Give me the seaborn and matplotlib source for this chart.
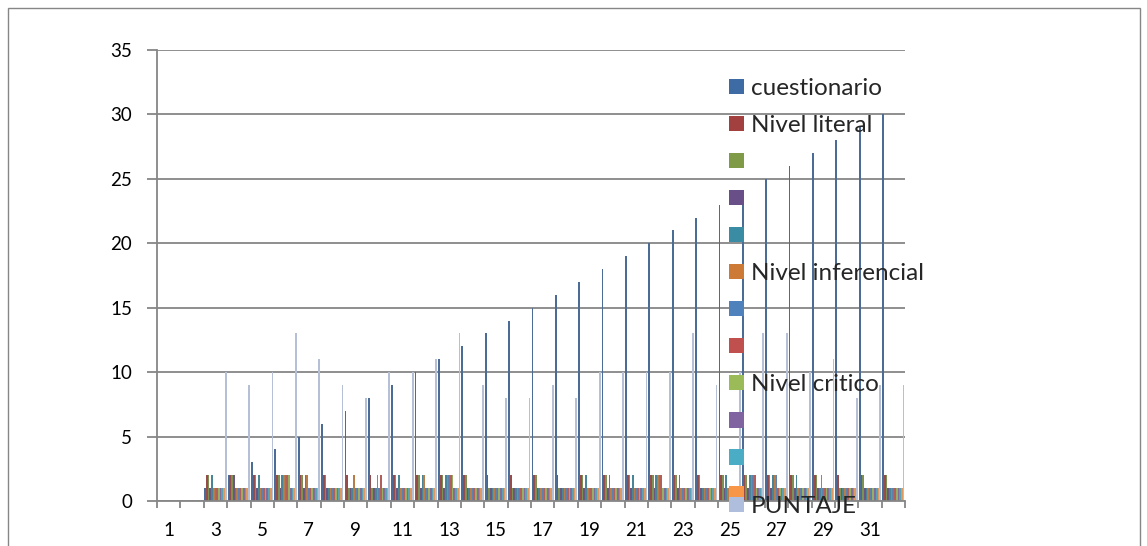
#!/usr/bin/env python3
import numpy as np
import pandas as pd
import matplotlib
matplotlib.use("Agg")
import matplotlib.pyplot as plt
import seaborn as sns
from matplotlib.patches import Patch, Rectangle
from matplotlib.ticker import FixedLocator

# ---- data ----
categories = [str(i) for i in range(1, 33)]
N = None

cuestionario = [N, N, 1, 2, 3, 4, 5, 6, 7, 8, 9, 10, 11, 12, 13, 14, 15, 16,
                17, 18, 19, 20, 21, 22, 23, 24, 25, 26, 27, 28, 29, 30]
nivel_literal = [N, N, 2, 2, 2, 2, 2, 2, 2, 2, 2, 2, 2, 2, 2, 2, 2, 2,
                 2, 2, 2, 2, 2, 2, 2, 2, 2, 2, 2, 2, 2, 2]
serie_3 = [N, N, 2, 2, 2, 2, 2, 2, 1, 1, 2, 2, 2, 2, 1, 1, 2, 1,
           2, 2, 2, 2, 2, 2, 2, 2, 2, 2, 2, 1, 2, 2]
serie_4 = [N, N, 1, 2, 1, 1, 1, 1, 1, 1, 1, 1, 1, 1, 1, 1, 1, 1,
           1, 1, 1, 1, 1, 1, 1, 1, 1, 1, 1, 1, 1, 1]
serie_5 = [N, N, 2, 1, 2, 2, 2, 1, 1, 1, 2, 2, 2, 1, 1, 1, 1, 1,
           2, 2, 2, 2, 2, 1, 2, 2, 2, 2, 1, 1, 1, 1]
nivel_inferencial = [N, N, 1, 1, 1, 2, 2, 1, 2, 2, 1, 2, 2, 1, 1, 1, 1, 1,
                     1, 1, 1, 2, 1, 1, 1, 2, 2, 1, 2, 1, 1, 1]
serie_7 = [N, N, 1, 1, 1, 2, 1, 1, 1, 1, 1, 1, 2, 1, 1, 1, 1, 1,
           1, 1, 1, 2, 1, 1, 1, 2, 2, 1, 1, 1, 1, 1]
serie_8 = [N, N, 1, 1, 1, 2, 1, 1, 1, 2, 1, 1, 2, 1, 1, 1, 1, 1,
           1, 1, 1, 2, 1, 1, 1, 2, 1, 1, 1, 1, 1, 1]
nivel_critico = [N, N, 1, 1, 1, 2, 1, 1, 1, 1, 1, 1, 2, 1, 1, 1, 1, 1,
                 1, 1, 1, 1, 1, 1, 1, 1, 1, 1, 1, 1, 1, 1]
serie_10 = [N, N, 1, 1, 1, 1, 1, 1, 1, 1, 1, 1, 1, 1, 1, 1, 1, 1,
            1, 1, 1, 1, 1, 1, 1, 1, 1, 1, 1, 1, 1, 1]
serie_11 = [N, N, 1, 1, 1, 1, 1, 1, 1, 1, 1, 1, 1, 1, 1, 1, 1, 1,
            1, 1, 1, 1, 1, 1, 1, 1, 1, 1, 1, 1, 1, 1]
serie_12 = [N, N, 1, 1, 1, 1, 1, 1, 1, 1, 1, 1, 1, 1, 1, 1, 1, 1,
            1, 1, 1, 1, 1, 1, 1, 1, 1, 1, 1, 1, 1, 1]
puntaje = [N, N, 10, 9, 10, 13, 11, 9, 8, 10, 10, 11, 13, 9, 8, 8, 9, 8,
           10, 10, 10, 10, 13, 9, 10, 13, 13, 10, 11, 8, 9, 9]

# series names; blank entries are distinct whitespace strings
series_names = ["cuestionario", "Nivel literal", " ", "  ", "   ",
                "Nivel inferencial", "    ", "     ", "Nivel critico",
                "      ", "       ", "        ", "PUNTAJE"]
series_values = [cuestionario, nivel_literal, serie_3, serie_4, serie_5,
                 nivel_inferencial, serie_7, serie_8, nivel_critico,
                 serie_10, serie_11, serie_12, puntaje]
colors = ["#3E6BA3", "#A1403E", "#7F9B48", "#684F88", "#3A8CA4", "#CC7A36",
          "#4F81BD", "#C0504D", "#9BBB59", "#8064A2", "#4BACC6", "#F79646",
          "#AFBEDD"]

frames = []
for name, vals in zip(series_names, series_values):
    frames.append(pd.DataFrame({"cat": categories,
                                "serie": name,
                                "valor": pd.array(vals, dtype="Float64").astype(float)}))
df = pd.concat(frames, ignore_index=True)

W, H = 1147, 546
sns.set_theme(style="white")
plt.rcParams["font.family"] = ["Lato", "DejaVu Sans"]
grey = "#868686"
fs = 13.5
fs_leg = 17.5

fig = plt.figure(figsize=(W / 100, H / 100), dpi=100)
ax = fig.add_axes([157 / W, 45 / H, (905 - 157) / W, (501 - 50) / H])

sns.barplot(data=df, x="cat", y="valor", hue="serie", order=categories,
            hue_order=series_names, palette=colors, errorbar=None,
            width=0.95, gap=0, linewidth=0, legend=False, ax=ax)

ax.set_xlim(-0.5, len(categories) - 0.5)
ax.set_ylim(0, 35)
ax.set_yticks(np.arange(0, 36, 5))
ax.yaxis.grid(True, color=grey, linewidth=1.3)
ax.set_axisbelow(True)

ax.set_xticks(np.arange(0, len(categories), 2))
ax.set_xticklabels(categories[::2])
ax.xaxis.set_minor_locator(FixedLocator(np.arange(-0.5, len(categories), 1)))
ax.tick_params(axis="x", which="major", length=0, pad=15, labelsize=fs, colors="black")
ax.tick_params(axis="x", which="minor", length=5, width=1.3, color=grey, bottom=True)
ax.tick_params(axis="y", which="major", length=7, width=1.3, color=grey, left=True,
               pad=11, labelsize=fs, labelcolor="black")
ax.set_xlabel("")
ax.set_ylabel("")

for side in ["top", "right"]:
    ax.spines[side].set_visible(False)
for side in ["left", "bottom"]:
    ax.spines[side].set_color(grey)
    ax.spines[side].set_linewidth(1.3)

handles = [Patch(facecolor=c, edgecolor="none") for c in colors]
leg_kw = dict(loc="upper left", frameon=False, fontsize=fs_leg, handlelength=0.6,
              handleheight=0.6, handletextpad=0.3, borderpad=0, borderaxespad=0)
leg1 = fig.legend(handles[:12], series_names[:12], labelspacing=0.66,
                  bbox_to_anchor=(729 / W, 1 - 78 / H), **leg_kw)
leg2 = fig.legend(handles[12:], series_names[12:],
                  bbox_to_anchor=(729 / W, 1 - 496 / H), **leg_kw)

# chart area border
fig.patches.append(Rectangle((8 / W, -0.05), (1140 - 8) / W, 1.05 - 8 / H,
                             transform=fig.transFigure, fill=False,
                             edgecolor=grey, linewidth=1))

fig.savefig("out.png", dpi=100)
